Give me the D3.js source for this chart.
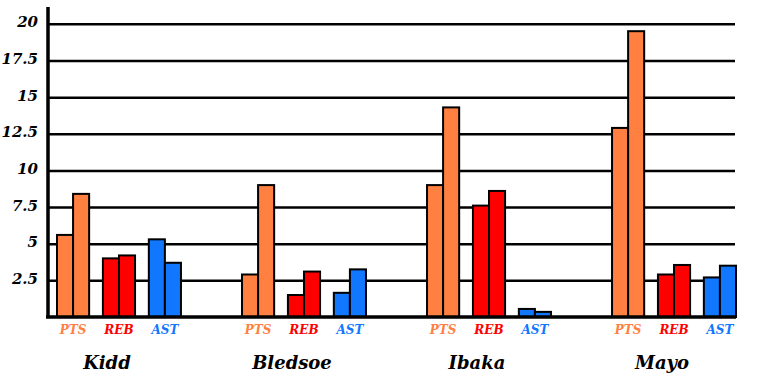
<!DOCTYPE html>
<html>
<head>
<meta charset="utf-8">
<script src="https://cdn.jsdelivr.net/npm/d3@7"></script>
<style>
  body { margin: 0; background: #fff; }
  svg text { font-family: "DejaVu Serif", "Liberation Serif", serif; font-weight: bold; font-style: italic; }
</style>
</head>
<body>
<script>
var players = ["Kidd", "Bledsoe", "Ibaka", "Mayo"];
var stats = ["PTS", "REB", "AST"];
var seasons = ["first", "second"];

// two bars per stat
var ptsFirst  = [5.6, 2.9, 9.0, 12.9];
var ptsSecond = [8.4, 9.0, 14.3, 19.5];
var rebFirst  = [4.0, 1.5, 7.6, 2.9];
var rebSecond = [4.2, 3.1, 8.6, 3.55];
var astFirst  = [5.3, 1.65, 0.55, 2.7];
var astSecond = [3.7, 3.25, 0.35, 3.5];

var yTicks = [2.5, 5, 7.5, 10, 12.5, 15, 17.5, 20];

var statColor = { PTS: "#ff8040", REB: "#ff0000", AST: "#1177ff" };

// build rows for d3
var values = {
  PTS: [ptsFirst, ptsSecond],
  REB: [rebFirst, rebSecond],
  AST: [astFirst, astSecond]
};
var rows = [];
players.forEach(function(p, i) {
  stats.forEach(function(s) {
    seasons.forEach(function(se, j) {
      rows.push({ player: p, stat: s, season: se, value: values[s][j][i] });
    });
  });
});

var width = 758, height = 384;
var left = 48, right = 735, base = 317;

var svg = d3.select("body").append("svg").attr("width", width).attr("height", height);

var x = d3.scaleBand().domain(players).range([57, 736]).paddingInner(0.33);
var xs = d3.scaleBand().domain(stats).range([0, x.bandwidth()]).paddingInner(0.3);
var xb = d3.scaleBand().domain(seasons).range([0, xs.bandwidth()]);

var y = d3.scaleLinear().domain([0, 21.15]).range([base, 7]);

// y axis with gridlines
var yAxis = d3.axisLeft(y)
  .tickValues(yTicks)
  .tickFormat(d3.format(""))
  .tickSize(-(right - left))
  .tickPadding(10);

var gy = svg.append("g")
  .attr("transform", "translate(" + left + ",0)")
  .call(yAxis);
gy.attr("font-family", null);
gy.select(".domain").remove();
gy.selectAll(".tick line").attr("stroke", "#000").attr("stroke-width", 2.5);
gy.selectAll(".tick text")
  .attr("fill", "#000")
  .attr("font-size", 15)
  .attr("dy", "0.2em");

// bars
svg.append("g").selectAll("rect")
  .data(rows)
  .enter().append("rect")
    .attr("x", function(d) { return x(d.player) + xs(d.stat) + xb(d.season); })
    .attr("y", function(d) { return y(d.value); })
    .attr("width", xb.bandwidth())
    .attr("height", function(d) { return base - y(d.value); })
    .attr("fill", function(d) { return statColor[d.stat]; })
    .attr("stroke", "#000")
    .attr("stroke-width", 2);

// baseline and vertical axis line
svg.append("line")
  .attr("x1", left - 2).attr("x2", right + 1)
  .attr("y1", base).attr("y2", base)
  .attr("stroke", "#000").attr("stroke-width", 3.5);
svg.append("line")
  .attr("x1", left).attr("x2", left)
  .attr("y1", y(21.15)).attr("y2", base + 1)
  .attr("stroke", "#000").attr("stroke-width", 3.5);

// stat labels under each pair
var statLabels = [];
players.forEach(function(p) { stats.forEach(function(s) { statLabels.push({ player: p, stat: s }); }); });
svg.append("g").selectAll("text")
  .data(statLabels)
  .enter().append("text")
    .attr("x", function(d) { return x(d.player) + xs(d.stat) + xs.bandwidth() / 2; })
    .attr("y", 334)
    .attr("text-anchor", "middle")
    .attr("font-size", 12)
    .attr("fill", function(d) { return statColor[d.stat]; })
    .text(function(d) { return d.stat; });

// player names
svg.append("g").selectAll("text")
  .data(players)
  .enter().append("text")
    .attr("x", function(d) { return x(d) + x.bandwidth() / 2 - 12; })
    .attr("y", 369)
    .attr("text-anchor", "middle")
    .attr("font-size", 18)
    .attr("fill", "#000")
    .text(function(d) { return d; });
</script>
</body>
</html>
